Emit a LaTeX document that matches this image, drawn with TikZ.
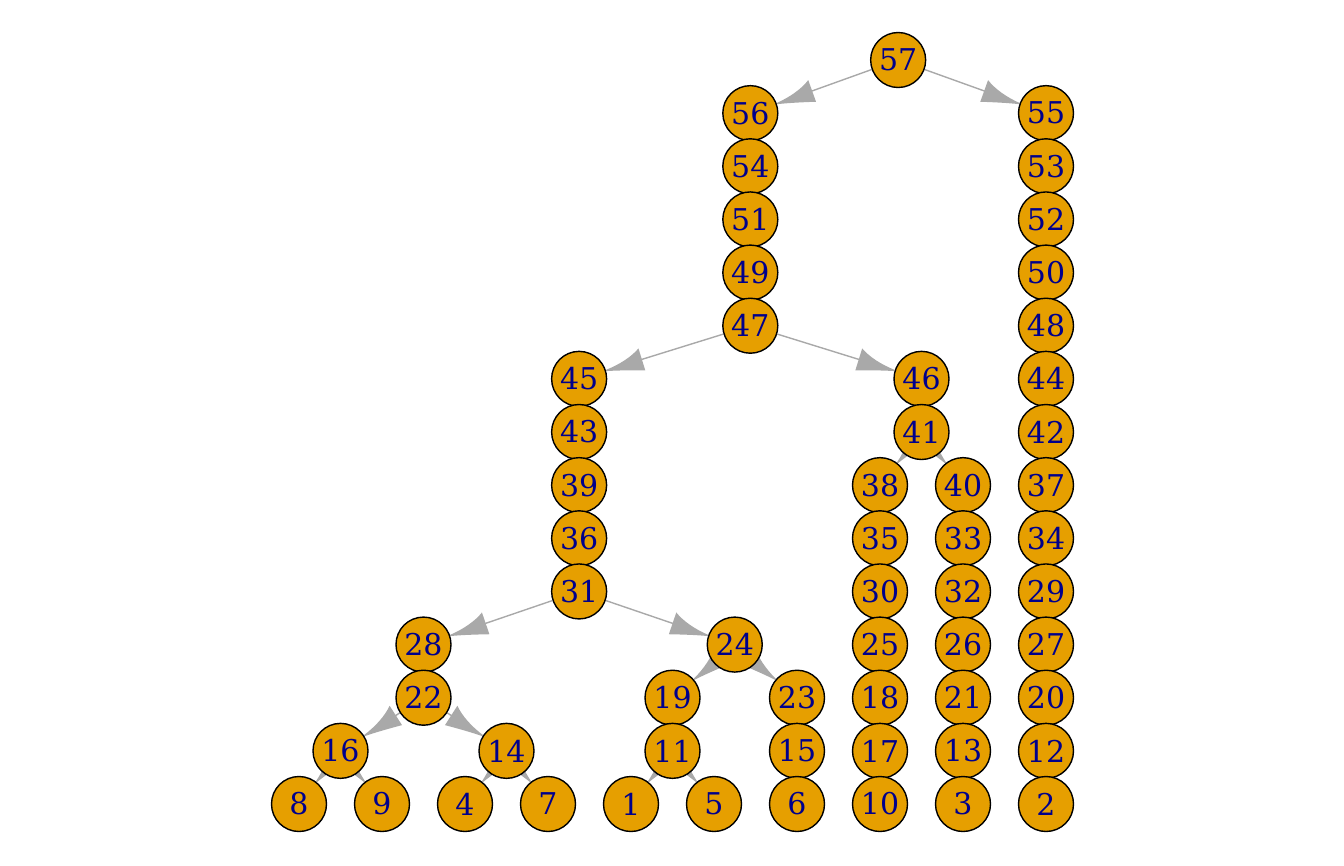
\documentclass[tikz,border=0pt]{standalone}
\usepackage{fontspec}
\newfontfamily\labfont{DejaVu Serif}
\usetikzlibrary{backgrounds}
\definecolor{nodefill}{HTML}{E69F00}
\definecolor{labc}{HTML}{00008B}
\definecolor{edgec}{HTML}{A9A9A9}
% igraph-like arrow, concave on +y side
\pgfdeclarearrow{
  name = IGa,
  setup code = {
    \pgfarrowssettipend{0pt}
    \pgfarrowssetlineend{-28pt}
    \pgfarrowssetbackend{-37.5pt}
    \pgfarrowshullpoint{0pt}{0pt}
    \pgfarrowshullpoint{-37.5pt}{11.5pt}
    \pgfarrowshullpoint{-37.5pt}{-11.5pt}
  },
  drawing code = {
    \pgfpathmoveto{\pgfpoint{0pt}{0.6pt}}
    \pgfpathcurveto{\pgfpoint{-15pt}{1.8pt}}{\pgfpoint{-28pt}{5.5pt}}{\pgfpoint{-37.5pt}{11.5pt}}
    \pgfpathlineto{\pgfpoint{-37.5pt}{-11.5pt}}
    \pgfpathcurveto{\pgfpoint{-25pt}{-7.5pt}}{\pgfpoint{-12pt}{-3.5pt}}{\pgfpoint{0pt}{-0.6pt}}
    \pgfpathclose
    \pgfusepathqfill
  }
}
% mirror: concave on -y side
\pgfdeclarearrow{
  name = IGb,
  setup code = {
    \pgfarrowssettipend{0pt}
    \pgfarrowssetlineend{-28pt}
    \pgfarrowssetbackend{-37.5pt}
    \pgfarrowshullpoint{0pt}{0pt}
    \pgfarrowshullpoint{-37.5pt}{11.5pt}
    \pgfarrowshullpoint{-37.5pt}{-11.5pt}
  },
  drawing code = {
    \pgfpathmoveto{\pgfpoint{0pt}{-0.6pt}}
    \pgfpathcurveto{\pgfpoint{-15pt}{-1.8pt}}{\pgfpoint{-28pt}{-5.5pt}}{\pgfpoint{-37.5pt}{-11.5pt}}
    \pgfpathlineto{\pgfpoint{-37.5pt}{11.5pt}}
    \pgfpathcurveto{\pgfpoint{-25pt}{7.5pt}}{\pgfpoint{-12pt}{3.5pt}}{\pgfpoint{0pt}{0.6pt}}
    \pgfpathclose
    \pgfusepathqfill
  }
}
\newcommand\vxnode[3]{\node[vx] (n#1) at ({299+41.5*#2},{60+53.143*#3}) {#1};}
\tikzset{
  vx/.style={circle, draw=black, line width=1.4pt, fill=nodefill, minimum size=55pt,
    inner sep=0pt, text=labc, font={\labfont\fontsize{30pt}{30pt}\selectfont}},
  eR/.style={draw=edgec, fill=edgec, line width=1.4pt, -{IGa}},
  eL/.style={draw=edgec, fill=edgec, line width=1.4pt, -{IGb}}
}
\begin{document}
\begin{tikzpicture}[x=1pt,y=-1pt]
\useasboundingbox (0,0) rectangle (1344,865);
% root and right chain
\vxnode{57}{14.4375}{0}
\vxnode{55}{18}{1}\vxnode{53}{18}{2}\vxnode{52}{18}{3}\vxnode{50}{18}{4}
\vxnode{48}{18}{5}\vxnode{44}{18}{6}\vxnode{42}{18}{7}\vxnode{37}{18}{8}
\vxnode{34}{18}{9}\vxnode{29}{18}{10}\vxnode{27}{18}{11}\vxnode{20}{18}{12}
\vxnode{12}{18}{13}\vxnode{2}{18}{14}
% left main chain
\vxnode{56}{10.875}{1}\vxnode{54}{10.875}{2}\vxnode{51}{10.875}{3}
\vxnode{49}{10.875}{4}\vxnode{47}{10.875}{5}
% 46 branch
\vxnode{46}{15}{6}\vxnode{41}{15}{7}
\vxnode{38}{14}{8}\vxnode{35}{14}{9}\vxnode{30}{14}{10}\vxnode{25}{14}{11}
\vxnode{18}{14}{12}\vxnode{17}{14}{13}\vxnode{10}{14}{14}
\vxnode{40}{16}{8}\vxnode{33}{16}{9}\vxnode{32}{16}{10}\vxnode{26}{16}{11}
\vxnode{21}{16}{12}\vxnode{13}{16}{13}\vxnode{3}{16}{14}
% 45 branch
\vxnode{45}{6.75}{6}\vxnode{43}{6.75}{7}\vxnode{39}{6.75}{8}
\vxnode{36}{6.75}{9}\vxnode{31}{6.75}{10}
\vxnode{28}{3}{11}\vxnode{22}{3}{12}
\vxnode{16}{1}{13}\vxnode{14}{5}{13}
\vxnode{8}{0}{14}\vxnode{9}{2}{14}\vxnode{4}{4}{14}\vxnode{7}{6}{14}
\vxnode{24}{10.5}{11}
\vxnode{19}{9}{12}\vxnode{11}{9}{13}
\vxnode{1}{8}{14}\vxnode{5}{10}{14}
\vxnode{23}{12}{12}\vxnode{15}{12}{13}\vxnode{6}{12}{14}
\begin{scope}[on background layer]
\foreach \a/\b in {57/56,47/45,31/28,22/16,16/8,14/4,24/19,11/1,41/38}
  \draw[eL] (n\a) -- (n\b);
\foreach \a/\b in {57/55,47/46,31/24,22/14,16/9,14/7,24/23,11/5,41/40}
  \draw[eR] (n\a) -- (n\b);
\foreach \a/\b in {56/54,54/51,51/49,49/47,45/43,43/39,39/36,36/31,28/22,
  19/11,23/15,15/6,46/41,38/35,35/30,30/25,25/18,18/17,17/10,
  40/33,33/32,32/26,26/21,21/13,13/3,55/53,53/52,52/50,50/48,48/44,44/42,
  42/37,37/34,34/29,29/27,27/20,20/12,12/2}
  \draw[eR] (n\a) -- (n\b);
\end{scope}
\end{tikzpicture}
\end{document}
